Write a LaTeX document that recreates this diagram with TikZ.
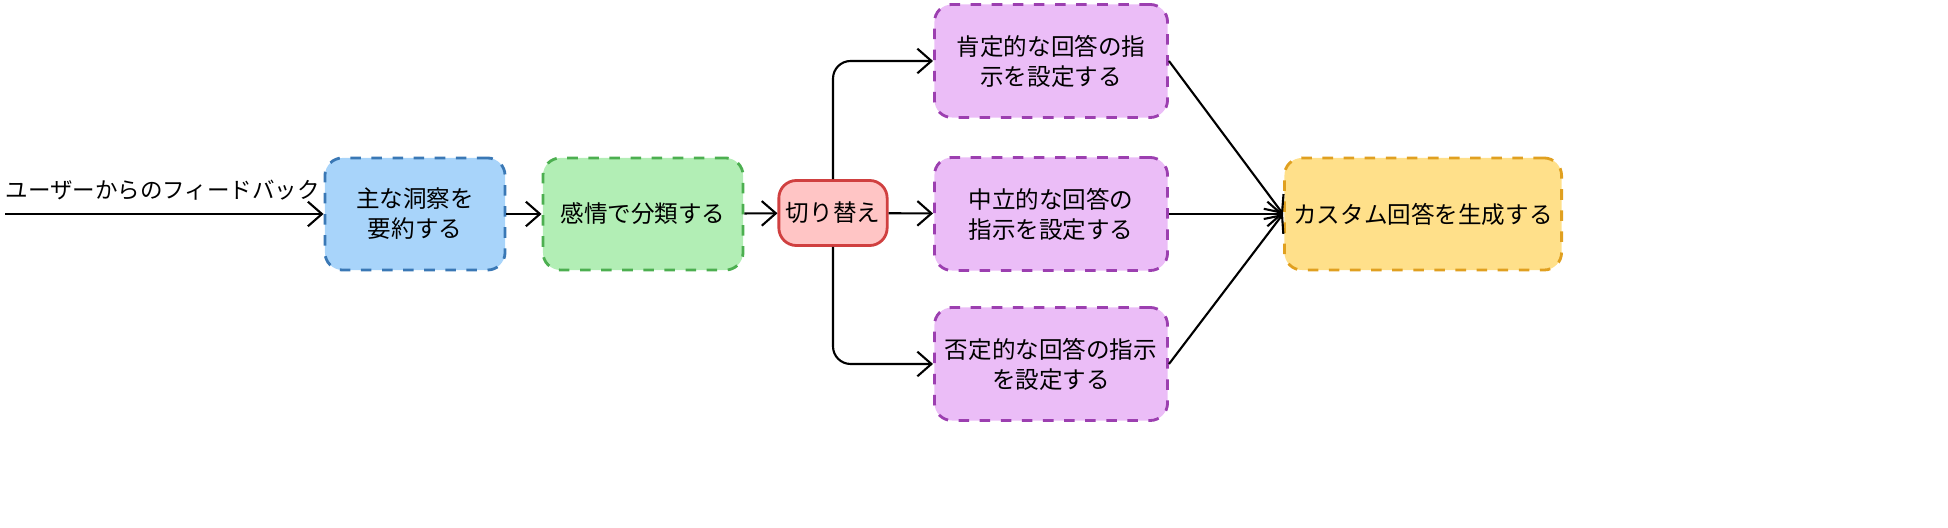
\documentclass[tikz,border=0pt]{standalone}
\usepackage{fontspec}
\setmainfont{Noto Sans CJK JP}
\usetikzlibrary{positioning,arrows.meta}
\definecolor{bluefill}{HTML}{A8D4FA}\definecolor{blueline}{HTML}{3A78B5}
\definecolor{greenfill}{HTML}{B2EEB5}\definecolor{greenline}{HTML}{4CAF50}
\definecolor{redfill}{HTML}{FFC5C5}\definecolor{redline}{HTML}{D04040}
\definecolor{purplefill}{HTML}{EBBDF7}\definecolor{purpleline}{HTML}{9C3FB0}
\definecolor{yellowfill}{HTML}{FFE08A}\definecolor{yellowline}{HTML}{E0A020}
\begin{document}
\begin{tikzpicture}[x=0.01cm,y=-0.01cm,font=\fontsize{6.7pt}{8.5pt}\selectfont,
  >={Straight Barb[length=4pt,width=7pt]}]
\tikzset{
  box/.style={rounded corners=5pt,dashed,line width=0.8pt,align=center,inner sep=2pt},
  conn/.style={->,line width=0.6pt,rounded corners=5pt}
}
\useasboundingbox (0,0) rectangle (1948,528);

\node[anchor=west,inner sep=0pt,font=\fontsize{6.4pt}{8pt}\selectfont] (fb) at (5,190) {ユーザーからのフィードバック};
\coordinate (fbstart) at (5,214);
\node[box,fill=bluefill,draw=blueline,minimum width=1.8cm,minimum height=1.12cm] (sum) at (415,214) {主な洞察を\\要約する};
\node[box,fill=greenfill,draw=greenline,minimum width=2cm,minimum height=1.12cm] (cls) at (643,214) {感情で分類する};
\node[box,solid,fill=redfill,draw=redline,minimum width=1.07cm,minimum height=0.65cm] (sw) at (833,213) {切り替え};
\node[box,fill=purplefill,draw=purpleline,minimum width=2.33cm,minimum height=1.13cm] (pos) at (1051,61) {肯定的な回答の指\\示を設定する};
\node[box,fill=purplefill,draw=purpleline,minimum width=2.33cm,minimum height=1.13cm] (neu) at (1051,214) {中立的な回答の\\指示を設定する};
\node[box,fill=purplefill,draw=purpleline,minimum width=2.33cm,minimum height=1.13cm] (neg) at (1051,364) {否定的な回答の指示\\を設定する};
\node[box,fill=yellowfill,draw=yellowline,minimum width=2.77cm,minimum height=1.12cm] (gen) at (1423,214) {カスタム回答を生成する};

\draw[conn] (fbstart) -- (sum.west |- fbstart);
\draw[conn] (sum) -- (cls);
\draw[conn] (cls) -- (sw);
\draw[conn] (sw.north) -- (sw.north |- pos) -- (pos);
\draw[conn] (sw) -- (neu);
\draw[conn] (sw.south) -- (sw.south |- neg) -- (neg);
\draw[conn] (pos.east) -- (gen.west);
\draw[conn] (neu) -- (gen);
\draw[conn] (neg.east) -- (gen.west);
\end{tikzpicture}
\end{document}
